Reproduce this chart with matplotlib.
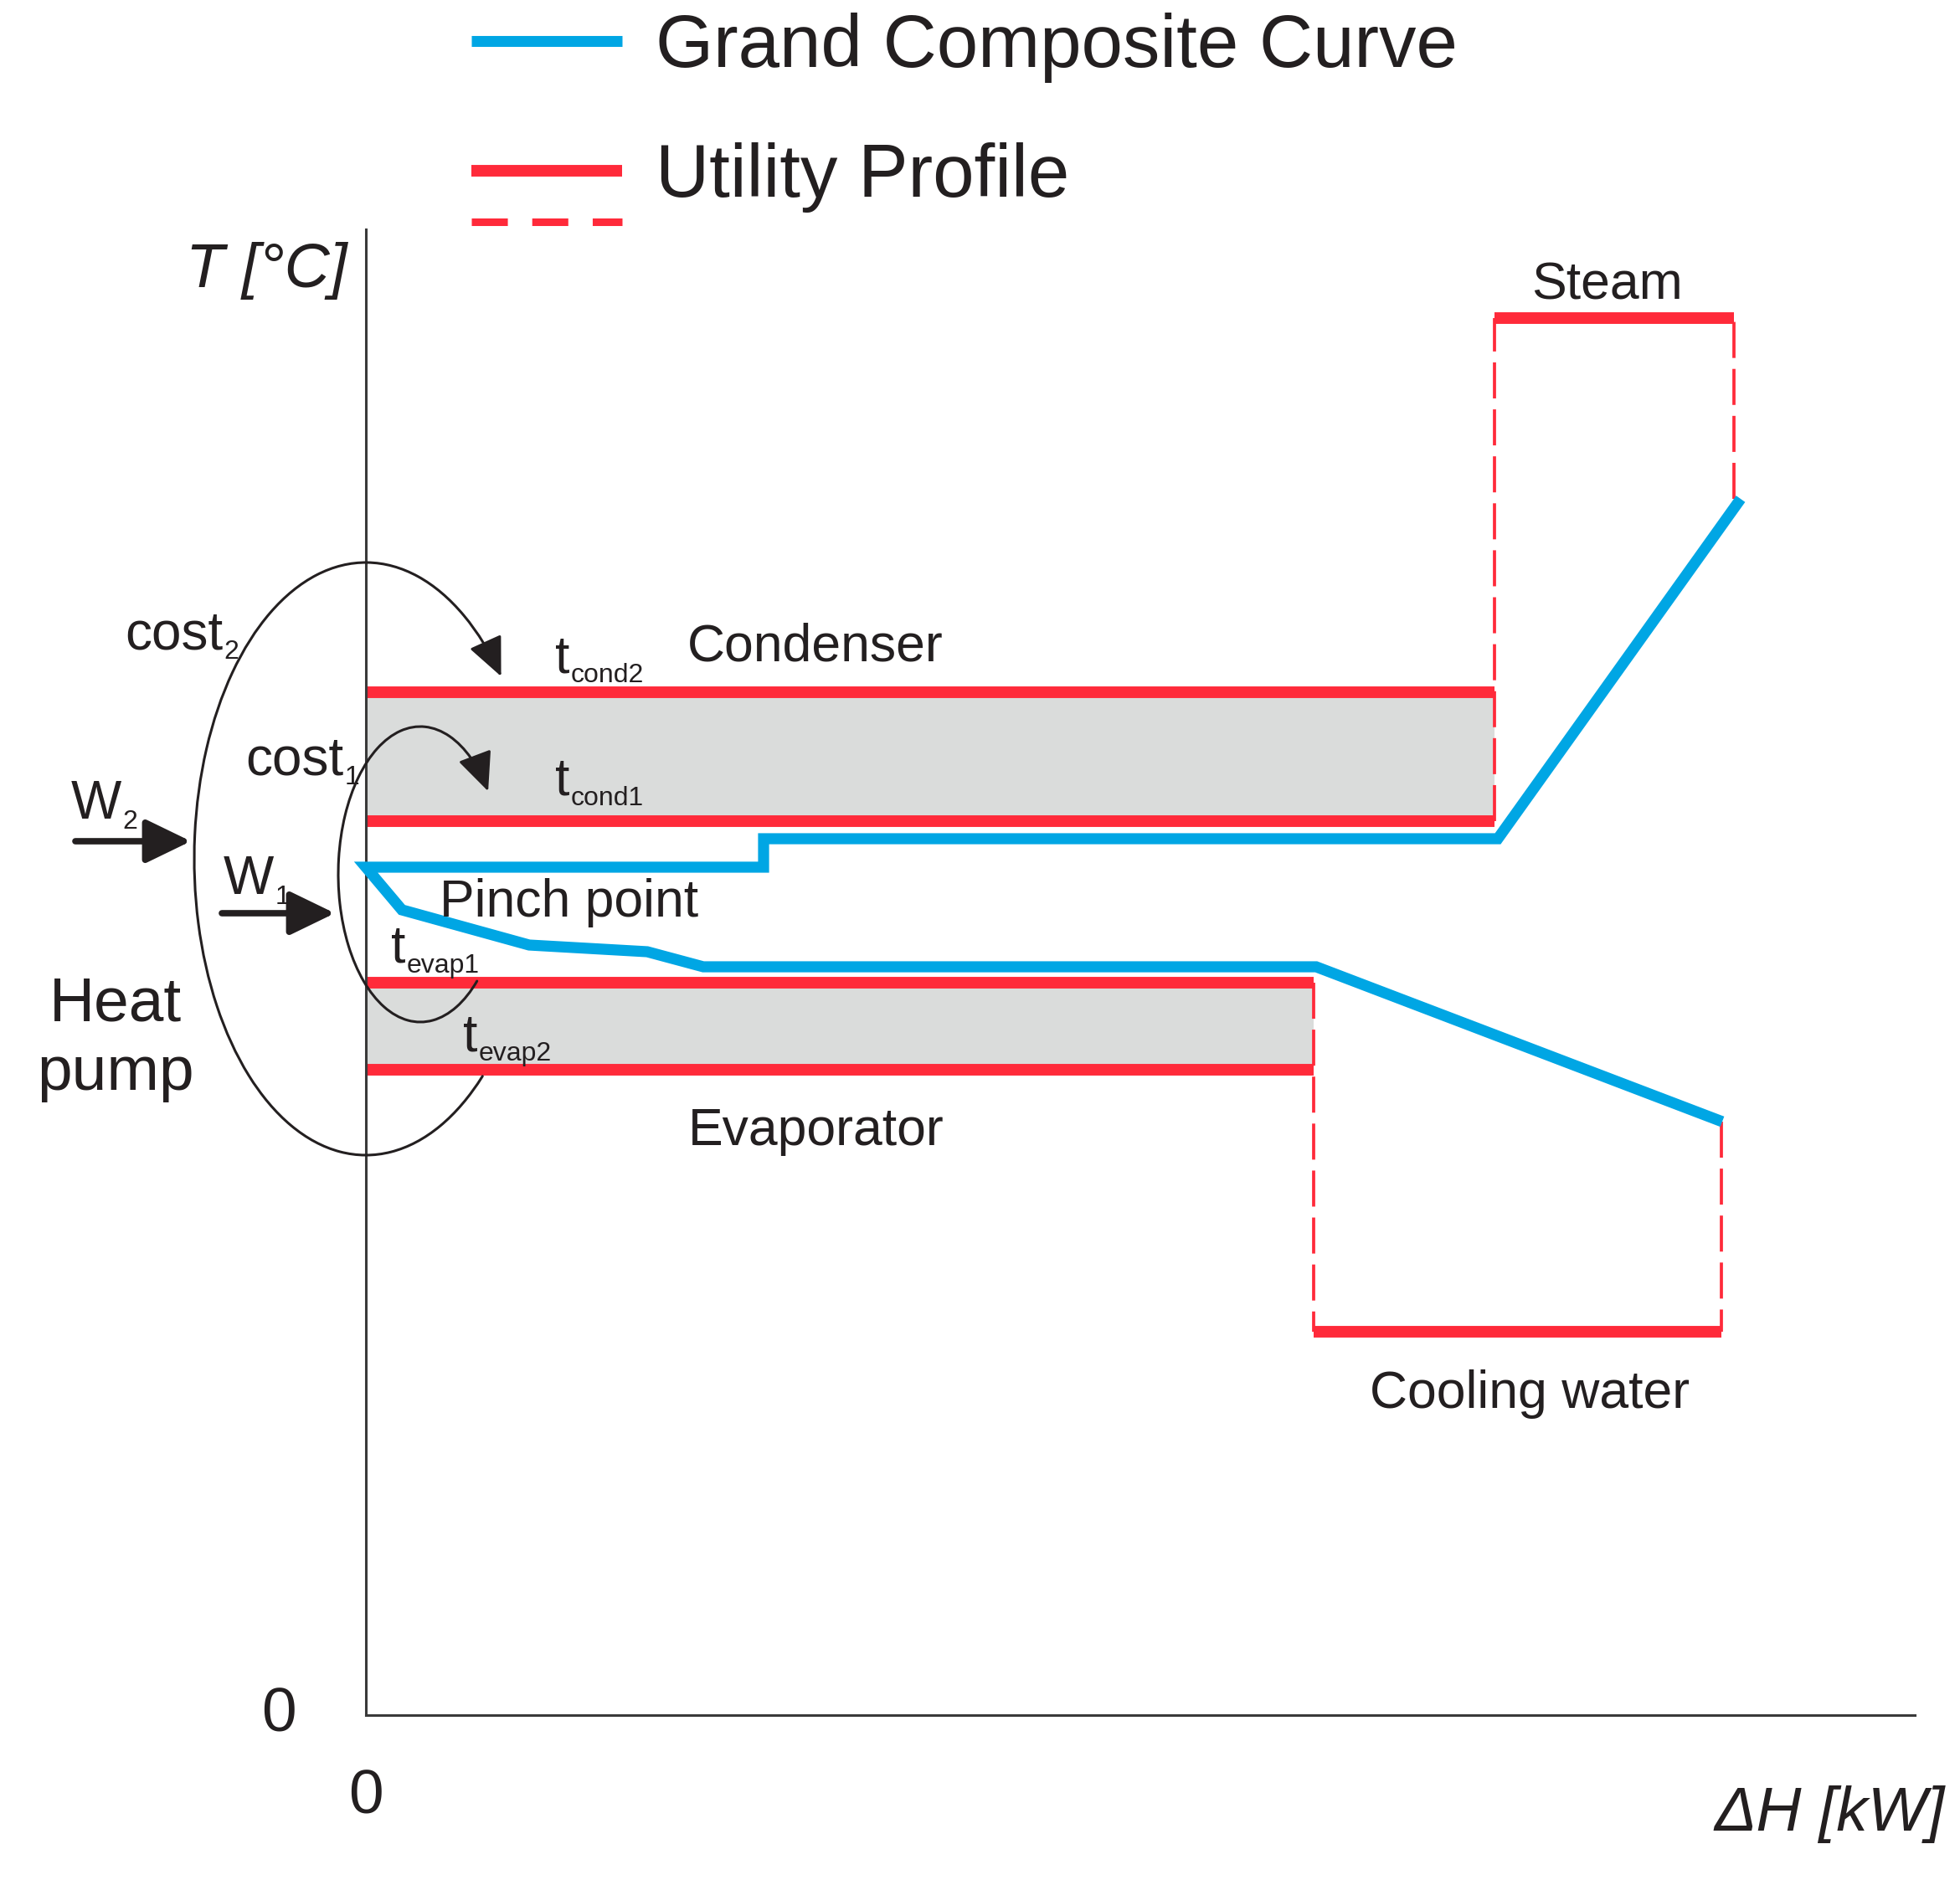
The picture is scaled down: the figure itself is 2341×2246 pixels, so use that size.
import matplotlib

matplotlib.use("Agg")
import matplotlib.pyplot as plt
from matplotlib.legend_handler import HandlerBase
from matplotlib.lines import Line2D
from matplotlib.patches import ArrowStyle, FancyArrowPatch
from matplotlib.path import Path
from matplotlib.transforms import Affine2D

plt.rcParams["font.family"] = ["Liberation Sans", "DejaVu Sans"]
plt.rcParams["lines.scale_dashes"] = False

INK = "#231f20"
RED = "#ff2a3a"
BLUE = "#00a6e4"
GRAY = "#dadcdb"

# grand composite curve, from the hot end (steam side) to the cold end
GCC_DH = [164.2, 135.2, 47.5, 47.5, 0.0, 4.3, 19.5, 33.6, 40.3, 113.5, 162.0]
GCC_T = [145.3, 104.7, 104.7, 101.3, 101.3, 96.2, 92.0, 91.2, 89.4, 89.4, 70.9]

# heat pump levels
T_COND = [122.2, 106.8]   # t_cond2, t_cond1
T_EVAP = [87.5, 77.1]     # t_evap1, t_evap2
DH_COND = 134.8
DH_EVAP = 113.2

# hot and cold utilities
STEAM_DH = [134.8, 163.4]
STEAM_T = 166.9
COOLING_DH = [113.2, 161.9]
COOLING_T = 45.8

# heat pump loops: centre, semi axes, start/end angle (deg)
LOOP_2 = ((0.0, 102.3), (20.5, 35.4), (38.0, 312.8))
LOOP_1 = ((6.5, 100.45), (9.8, 17.65), (34.2, 313.7))
WORK_2 = ((-34.7, 104.4), (-20.9, 104.4))
WORK_1 = ((-17.2, 95.8), (-3.7, 95.8))


class UtilityKey:
    pass


class StackedLineHandler(HandlerBase):
    """Solid line with a dashed one underneath it."""

    def create_artists(self, legend, orig_handle, xdescent, ydescent,
                       width, height, fontsize, trans):
        y = height / 2 - ydescent
        x = [-xdescent, width - xdescent]
        solid = Line2D(x, [y, y], color=RED, lw=10, solid_capstyle="butt")
        dashed = Line2D(x, [y - 44, y - 44], color=RED, lw=6.5,
                        dashes=(31, 21), dash_capstyle="butt")
        for artist in (solid, dashed):
            artist.set_transform(trans)
        return [solid, dashed]


fig = plt.figure(figsize=(23.41, 22.46), dpi=100)
ax = fig.add_axes([0, 0, 1, 1])
ax.set_xlim(-43.7, 190.4)
ax.set_ylim(-19.7, 204.9)

for side in ("top", "right"):
    ax.spines[side].set_visible(False)
ax.spines["left"].set_position(("data", 0))
ax.spines["bottom"].set_position(("data", 0))
ax.spines["left"].set_bounds(0, 177.5)
ax.spines["bottom"].set_bounds(0, 185.0)
for side in ("left", "bottom"):
    ax.spines[side].set_linewidth(2.2)
    ax.spines[side].set_color("#3a3a3a")
ax.set_xticks([0])
ax.set_yticks([0])
ax.tick_params(length=0, labelsize=54, labelcolor=INK)
ax.tick_params(axis="x", pad=46)
ax.tick_params(axis="y", pad=60)
for label in ax.get_yticklabels():
    label.set_verticalalignment("center")

ax.set_ylabel("T [°C]", rotation=0, fontsize=54, style="italic", color=INK,
              ha="right", va="baseline")
ax.yaxis.set_label_coords(-2.2, 170.6, transform=ax.transData)
ax.set_xlabel("ΔH [kW]", fontsize=54, style="italic", color=INK,
              ha="left", va="baseline")
ax.xaxis.set_label_coords(161.0, -13.8, transform=ax.transData)

# shaded heat pump bands
ax.fill_between([0, DH_COND], T_COND[1], T_COND[0], color=GRAY, lw=0, zorder=1)
ax.fill_between([0, DH_EVAP], T_EVAP[1], T_EVAP[0], color=GRAY, lw=0, zorder=1)

dash = dict(color=RED, lw=2.7, dashes=(31, 9.4), zorder=1.5)
ax.plot([STEAM_DH[0]] * 2, [T_COND[1], STEAM_T], **dash)
ax.plot([STEAM_DH[1]] * 2, [GCC_T[0], STEAM_T], **dash)
ax.plot([COOLING_DH[0]] * 2, [T_EVAP[0], COOLING_T], **dash)
ax.plot([COOLING_DH[1]] * 2, [GCC_T[-1], COOLING_T], **dash)

solid = dict(color=RED, lw=10, capstyle="butt", zorder=2)
ax.hlines(T_COND, 0, DH_COND, **solid)
ax.hlines(T_EVAP, 0, DH_EVAP, **solid)
ax.hlines(STEAM_T, *STEAM_DH, **solid)
ax.hlines(COOLING_T, *COOLING_DH, **solid)

ax.plot(GCC_DH, GCC_T, color=BLUE, lw=9.5, solid_joinstyle="miter",
        solid_capstyle="butt", zorder=3)

# heat pump loops with arrow heads at the condenser side
for (cx, cy), (a, b), (t1, t2) in (LOOP_2, LOOP_1):
    arc = Path.arc(t1, t2)
    arc = Path(arc.vertices[::-1], arc.codes)
    arc = Affine2D().scale(a, b).translate(cx, cy).transform_path(arc)
    ax.add_patch(FancyArrowPatch(
        path=arc, arrowstyle=ArrowStyle("-|>", head_length=2.9, head_width=1.3),
        mutation_scale=10, lw=2.2, color=INK, zorder=4))

for start, end in (WORK_2, WORK_1):
    ax.add_patch(FancyArrowPatch(
        start, end, arrowstyle=ArrowStyle("-|>", head_length=3.3, head_width=1.6),
        mutation_scale=10, lw=5.5, color=INK, shrinkA=0, shrinkB=0, zorder=4))


def label_with_sub(x, y, main, sub, size, sub_size):
    text = ax.text(x, y, main, fontsize=size, color=INK, va="baseline", zorder=5)
    ax.annotate(sub, xy=(1, 0), xycoords=text, xytext=(1, 1),
                textcoords="offset points", fontsize=sub_size, color=INK,
                va="baseline", zorder=5)


label_with_sub(22.6, 124.6, "t", "cond2", 45, 23)
label_with_sub(22.6, 109.9, "t", "cond1", 45, 23)
label_with_sub(3.0, 89.9, "t", "evap1", 45, 23)
label_with_sub(11.6, 79.4, "t", "evap2", 45, 23)
label_with_sub(-28.8, 127.4, "cost", "2", 46, 23)
label_with_sub(-14.4, 112.4, "cost", "1", 46, 23)
label_with_sub(-35.2, 107.1, "W", "2", 46, 23)
label_with_sub(-17.0, 98.1, "W", "1", 46, 23)

notes = dict(fontsize=45, color=INK, va="baseline", zorder=5)
ax.text(148.3, 169.1, "Steam", ha="center", **notes)
ax.text(38.4, 125.9, "Condenser", **notes)
ax.text(8.8, 95.4, "Pinch point", **notes)
ax.text(38.5, 68.1, "Evaporator", **notes)
ax.text(139.0, 36.7, "Cooling water", ha="center", **notes)
ax.text(-29.9, 74.7, "Heat\npump", ha="center", va="baseline", fontsize=54,
        color=INK, linespacing=1.25)

handles = [Line2D([], [], color=BLUE, lw=9.4, solid_capstyle="butt"), UtilityKey()]
ax.legend(handles, ["Grand Composite Curve", "Utility Profile"],
          handler_map={UtilityKey: StackedLineHandler()},
          loc="upper left", bbox_to_anchor=(563 / 2341, 1 - 15 / 2246),
          bbox_transform=fig.transFigure, frameon=False, fontsize=64,
          labelcolor=INK, handlelength=2.03, handletextpad=0.45,
          labelspacing=0.8, borderpad=0, borderaxespad=0)

fig.savefig("out.png", dpi=100)
plt.close(fig)
